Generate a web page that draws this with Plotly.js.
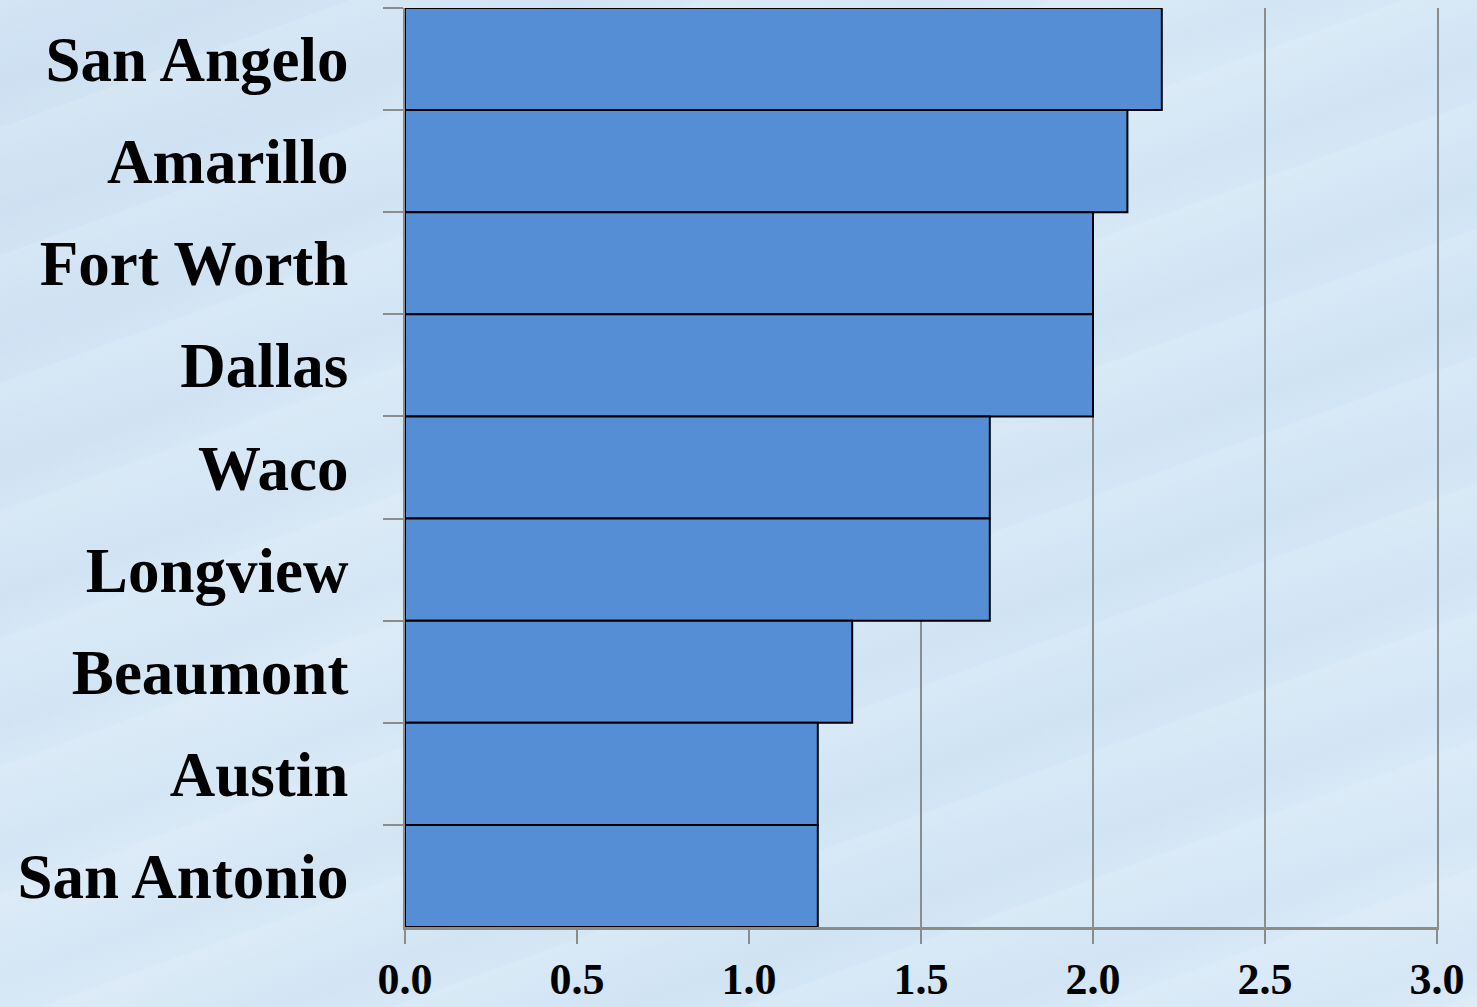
<!DOCTYPE html>
<html>
<head>
<meta charset="utf-8">
<script src="https://cdn.plot.ly/plotly-3.0.1.min.js"></script>
<style>
  html, body { margin: 0; padding: 0; width: 1477px; height: 1007px; overflow: hidden; }
  body {
    background:
      repeating-linear-gradient(160deg, rgba(255,255,255,0.10) 0px, rgba(255,255,255,0.0) 40px, rgba(180,205,230,0.12) 80px, rgba(255,255,255,0.0) 120px),
      linear-gradient(135deg, #cfe2f3 0%, #d9e9f6 40%, #d3e6f5 70%, #dbeaf7 100%);
  }
  #chart { width: 1477px; height: 1007px; }
</style>
</head>
<body>
<div id="chart"></div>
<script>
const cities = ["San Angelo", "Amarillo", "Fort Worth", "Dallas", "Waco", "Longview", "Beaumont", "Austin", "San Antonio"];
const values = [2.2, 2.1, 2.0, 2.0, 1.7, 1.7, 1.3, 1.2, 1.2];
const xTicks = [0, 0.5, 1.0, 1.5, 2.0, 2.5, 3.0];
const xTickLabels = ["0.0", "0.5", "1.0", "1.5", "2.0", "2.5", "3.0"];

const trace = {
  type: 'bar',
  orientation: 'h',
  y: cities,
  x: values,
  marker: { color: '#558ed5', line: { color: '#000000', width: 2 } },
  hoverinfo: 'x+y'
};

const layout = {
  width: 1477,
  height: 1007,
  margin: { l: 405, r: 40, t: 8, b: 80 },
  paper_bgcolor: 'rgba(0,0,0,0)',
  plot_bgcolor: 'rgba(0,0,0,0)',
  bargap: 0,
  showlegend: false,
  xaxis: {
    range: [0, 3.0],
    tickvals: xTicks,
    ticktext: xTickLabels,
    showgrid: true,
    gridcolor: '#8c8c8c',
    gridwidth: 1.5,
    zeroline: false,
    showline: true,
    linecolor: '#8c8c8c',
    linewidth: 3,
    ticks: 'outside',
    ticklen: 14,
    tickwidth: 2,
    tickcolor: '#8c8c8c',
    ticklabelstandoff: -3,
    tickfont: { family: 'Liberation Serif, Times New Roman, serif', size: 44, color: '#000', weight: 'bold' }
  },
  yaxis: {
    type: 'category',
    autorange: 'reversed',
    showgrid: false,
    zeroline: false,
    showline: true,
    mirror: true,
    linecolor: '#8c8c8c',
    linewidth: 2,
    ticks: 'outside',
    tickson: 'boundaries',
    ticklen: 20,
    tickwidth: 2,
    tickcolor: '#8c8c8c',
    ticklabelstandoff: 42,
    tickfont: { family: 'Liberation Serif, Times New Roman, serif', size: 63, color: '#000', weight: 'bold' }
  }
};

Plotly.newPlot('chart', [trace], layout, { displayModeBar: false, staticPlot: true });
</script>
</body>
</html>
